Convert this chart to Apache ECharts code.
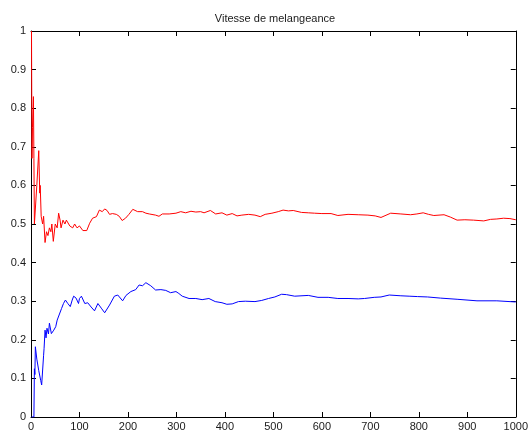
<!DOCTYPE html>
<html>
<head>
<meta charset="utf-8">
<script src="https://cdn.jsdelivr.net/npm/echarts@6/dist/echarts.min.js"></script>
<style>
  html, body { margin: 0; padding: 0; background: #fff; }
  #chart { width: 531px; height: 432px; }
</style>
</head>
<body>
<div id="chart"></div>
<script>
// Running estimate, upper curve (red)
const redX = [1, 2, 3, 5, 6, 7, 9, 12, 16, 18, 19, 21, 24, 26, 29, 32, 35, 38, 41, 43, 46, 50, 54, 57, 60, 62, 66, 70, 73, 76, 80, 86, 90, 95, 100,
  107, 115, 121, 127, 135, 141, 147, 152, 157, 162, 168, 176, 182, 188, 195, 202, 210, 220, 230, 237, 244, 257, 264, 271, 285, 299,
  309, 319, 330, 340, 350, 357, 370, 381, 394, 404, 415, 425, 435, 449, 462, 473, 483, 497, 510, 520, 531, 541, 558, 572, 585, 600,
  619, 633, 654, 675, 695, 710, 722, 742, 763, 783, 796, 809, 820, 831, 852, 865, 879, 895, 913, 934, 948, 961, 975, 988, 1000];
const redY = [1.0, 0.67, 0.75, 0.83, 0.67, 0.5, 0.5, 0.6, 0.69, 0.58, 0.6, 0.52, 0.5, 0.52, 0.452, 0.48, 0.47, 0.49, 0.48, 0.5, 0.455, 0.5, 0.49, 0.528, 0.51, 0.49, 0.51, 0.5, 0.51, 0.512, 0.495, 0.49, 0.5, 0.49, 0.495,
  0.483, 0.483, 0.502, 0.515, 0.519, 0.536, 0.532, 0.539, 0.535, 0.525, 0.527, 0.525, 0.52, 0.509, 0.515, 0.525, 0.538, 0.532, 0.532, 0.528, 0.526, 0.523, 0.52, 0.526, 0.526, 0.528,
  0.532, 0.529, 0.533, 0.531, 0.532, 0.529, 0.535, 0.526, 0.529, 0.523, 0.527, 0.521, 0.523, 0.525, 0.523, 0.519, 0.525, 0.528, 0.532, 0.536, 0.534, 0.535, 0.53, 0.529, 0.528, 0.527,
  0.527, 0.522, 0.525, 0.524, 0.523, 0.521, 0.517, 0.528, 0.526, 0.524, 0.526, 0.529, 0.525, 0.522, 0.524, 0.518, 0.51, 0.511, 0.51, 0.508, 0.512, 0.513, 0.515, 0.514, 0.511];

// Running estimate, lower curve (blue)
const blueX = [1, 6, 7, 8, 9, 12, 16, 20, 22, 26, 27, 29, 31, 33, 36, 38, 42, 47, 51, 54, 58, 63, 67, 71, 76, 81, 85, 88, 93, 98, 100,
  104, 111, 117, 124, 131, 138, 145, 152, 162, 172, 179, 189, 196, 206, 216, 223, 230, 237, 247, 257, 268, 278, 288, 299, 305,
  312, 326, 340, 353, 367, 380, 394, 404, 415, 428, 442, 462, 476, 490, 503, 517, 527, 544, 572, 592, 613, 633, 654, 675, 688,
  708, 722, 739, 763, 780, 797, 818, 845, 879, 920, 961, 1000];
const blueY = [0, 0, 0.125, 0.11, 0.182, 0.15, 0.12, 0.095, 0.083, 0.16, 0.178, 0.225, 0.205, 0.23, 0.215, 0.243, 0.216, 0.225, 0.234, 0.251, 0.247, 0.281, 0.294, 0.303, 0.294, 0.286, 0.303, 0.313, 0.308, 0.294, 0.307,
  0.313, 0.294, 0.296, 0.285, 0.275, 0.294, 0.282, 0.27, 0.29, 0.313, 0.316, 0.301, 0.315, 0.325, 0.33, 0.342, 0.34, 0.348, 0.34, 0.329, 0.33, 0.328, 0.322, 0.325, 0.32,
  0.313, 0.307, 0.307, 0.304, 0.307, 0.299, 0.296, 0.292, 0.293, 0.299, 0.3, 0.299, 0.302, 0.307, 0.311, 0.318, 0.317, 0.313, 0.315, 0.31, 0.31, 0.307, 0.307, 0.306, 0.307,
  0.31, 0.311, 0.316, 0.314, 0.313, 0.312, 0.311, 0.308, 0.305, 0.301, 0.301, 0.298];

const chartTitle = 'Vitesse de melangeance';

const pairs = (xs, ys) => xs.map((x, i) => [x, ys[i]]);

const FONT = '"Liberation Sans", Arial, Helvetica, sans-serif';
const axisLine = { show: true, onZero: false, lineStyle: { color: '#000', width: 1 } };
const tickIn = { show: true, inside: true, length: 5, lineStyle: { color: '#000', width: 1 } };

const chart = echarts.init(document.getElementById('chart'), null, { renderer: 'canvas' });
chart.setOption({
  animation: false,
  backgroundColor: '#fff',
  grid: { left: 31, right: 12, top: 31, bottom: 15, containLabel: false },
  graphic: [{
    type: 'text', x: 275, y: 19,
    style: { text: chartTitle, fill: '#1a1a1a', font: '11px ' + FONT, textAlign: 'center', textVerticalAlign: 'middle' }
  }],
  xAxis: [{
    type: 'value', min: 0, max: 1000, interval: 100, position: 'bottom',
    axisLine, axisTick: tickIn, splitLine: { show: false },
    axisLabel: { color: '#1a1a1a', fontSize: 11, fontFamily: FONT, margin: 4, formatter: v => String(v) }
  }, {
    type: 'value', min: 0, max: 1000, interval: 100, position: 'top',
    axisLine, axisTick: tickIn, splitLine: { show: false }, axisLabel: { show: false }
  }],
  yAxis: [{
    type: 'value', min: 0, max: 1, interval: 0.1, position: 'left',
    axisLine, axisTick: tickIn, splitLine: { show: false },
    axisLabel: { color: '#1a1a1a', fontSize: 11, fontFamily: FONT, margin: 5,
      formatter: v => String(Math.round(v * 10) / 10) }
  }, {
    type: 'value', min: 0, max: 1, interval: 0.1, position: 'right',
    axisLine, axisTick: tickIn, splitLine: { show: false }, axisLabel: { show: false }
  }],
  series: [{
    type: 'line', data: pairs(redX, redY), showSymbol: false, symbol: 'none',
    lineStyle: { color: '#ff0000', width: 1 }, itemStyle: { color: '#ff0000' }
  }, {
    type: 'line', data: pairs(blueX, blueY), showSymbol: false, symbol: 'none',
    lineStyle: { color: '#0000ff', width: 1 }, itemStyle: { color: '#0000ff' }
  }]
});
</script>
</body>
</html>
